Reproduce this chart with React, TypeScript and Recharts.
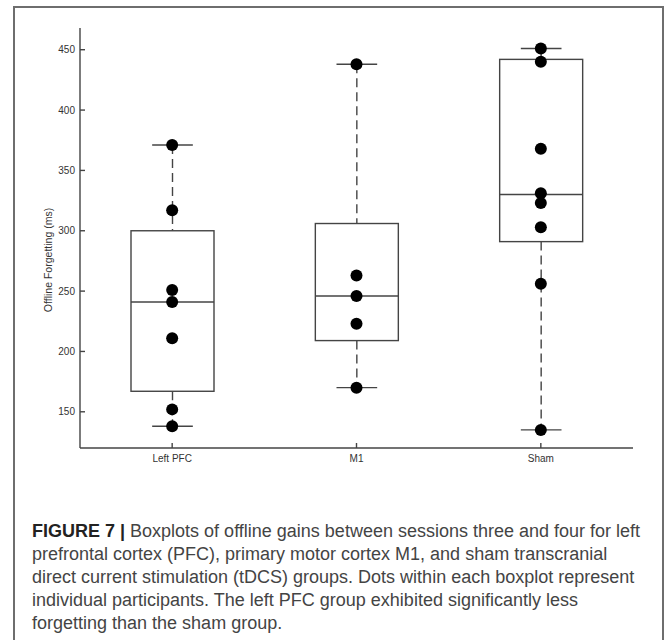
import React from 'react';
import { ComposedChart, Bar, Scatter, XAxis, YAxis } from 'recharts';

const groups = ['Left PFC', 'M1', 'Sham'];
const mins = [138, 170, 135];
const q1s = [167, 209, 291];
const medians = [241, 246, 330];
const q3s = [300, 306, 442];
const maxs = [371, 438, 451];

const leftPfcDots = [371, 317, 251, 241, 211, 152, 138];
const m1Dots = [438, 263, 246, 223, 170];
const shamDots = [451, 440, 368, 331, 323, 303, 256, 135];

const yTicks = [150, 200, 250, 300, 350, 400, 450];

const captionLines = [
  'prefrontal cortex (PFC), primary motor cortex M1, and sham transcranial',
  'direct current stimulation (tDCS) groups. Dots within each boxplot represent',
  'individual participants. The left PFC group exhibited significantly less',
  'forgetting than the sham group.',
];

const boxData = groups.map((g, i) => ({
  group: g,
  range: [mins[i], maxs[i]],
  min: mins[i],
  q1: q1s[i],
  median: medians[i],
  q3: q3s[i],
  max: maxs[i],
}));

const dotData = [
  ...leftPfcDots.map((v) => ({ group: groups[0], value: v })),
  ...m1Dots.map((v) => ({ group: groups[1], value: v })),
  ...shamDots.map((v) => ({ group: groups[2], value: v })),
];

const LINE = '#444';
const FRAME = '#6e6e6e';

const BoxShape = (props: any) => {
  const { x, y, width, height, payload } = props;
  const { min, q1, median, q3, max } = payload;
  const py = (v: number) => y + (height * (max - v)) / (max - min);
  const cx = x + width / 2;
  const cap = width * 0.245;
  return (
    <g fill="none" stroke={LINE} strokeWidth={1.4}>
      <line x1={cx} x2={cx} y1={py(max)} y2={py(q3)} strokeDasharray="9 5" />
      <line x1={cx} x2={cx} y1={py(q1)} y2={py(min)} strokeDasharray="9 5" />
      <line x1={cx - cap} x2={cx + cap} y1={py(max)} y2={py(max)} />
      <line x1={cx - cap} x2={cx + cap} y1={py(min)} y2={py(min)} />
      <rect x={x} y={py(q3)} width={width} height={py(q1) - py(q3)} fill="#fff" />
      <line x1={x} x2={x + width} y1={py(median)} y2={py(median)} />
    </g>
  );
};

const Dot = (props: any) => <circle cx={props.cx} cy={props.cy} r={6} fill="#000" />;

const YLabel = (props: any) => {
  const vb = props.viewBox;
  const x = vb.x + 48;
  const y = vb.y + vb.height / 2 + 22;
  return (
    <text x={x} y={y} transform={`rotate(-90, ${x}, ${y})`} textAnchor="middle" dominantBaseline="central"
      fontSize={10.5} fill="#333" fontFamily="'Liberation Sans', Arial, sans-serif">
      Offline Forgetting (ms)
    </text>
  );
};

const App: React.FC = () => {
  const font = "'Liberation Sans', Arial, Helvetica, sans-serif";
  return (
    <div style={{ position: 'fixed', left: 0, top: 0, width: 667, height: 640, background: '#fff', overflow: 'hidden' }}>
      <div style={{ position: 'absolute', left: 0, top: 0 }}>
        <ComposedChart width={667} height={480} data={boxData} margin={{ top: 28, right: 34, bottom: 0, left: 0 }}>
          <XAxis
            dataKey="group"
            allowDuplicatedCategory={false}
            height={32}
            tickSize={-5}
            tickMargin={12}
            stroke={LINE}
            strokeWidth={1.4}
            tick={{ fontSize: 10, fill: '#333', fontFamily: font }}
          />
          <YAxis
            type="number"
            domain={[120, 468]}
            ticks={yTicks}
            allowDataOverflow
            width={80}
            tickSize={-5}
            tickMargin={10}
            stroke={LINE}
            strokeWidth={1.4}
            tick={{ fontSize: 10, fill: '#333', fontFamily: font }}
            label={{ content: YLabel }}
          />
          <Bar dataKey="range" barSize={83} shape={BoxShape} isAnimationActive={false} />
          <Scatter data={dotData} dataKey="value" shape={Dot} isAnimationActive={false} />
        </ComposedChart>
      </div>
      <div style={{ position: 'absolute', left: 32, top: 520, fontFamily: font, fontSize: 18, lineHeight: '23px', color: '#444', whiteSpace: 'nowrap' }}>
        <div>
          <span style={{ fontWeight: 'bold', color: '#222' }}>FIGURE 7 | </span>
          Boxplots of offline gains between sessions three and four for left
        </div>
        {captionLines.map((l) => (
          <div key={l}>{l}</div>
        ))}
      </div>
      <div style={{ position: 'absolute', left: 13, top: 6, width: 651, height: 2, background: FRAME }} />
      <div style={{ position: 'absolute', left: 13, top: 6, width: 2, height: 640, background: FRAME }} />
      <div style={{ position: 'absolute', left: 662, top: 6, width: 2, height: 640, background: FRAME }} />
    </div>
  );
};

export default App;
